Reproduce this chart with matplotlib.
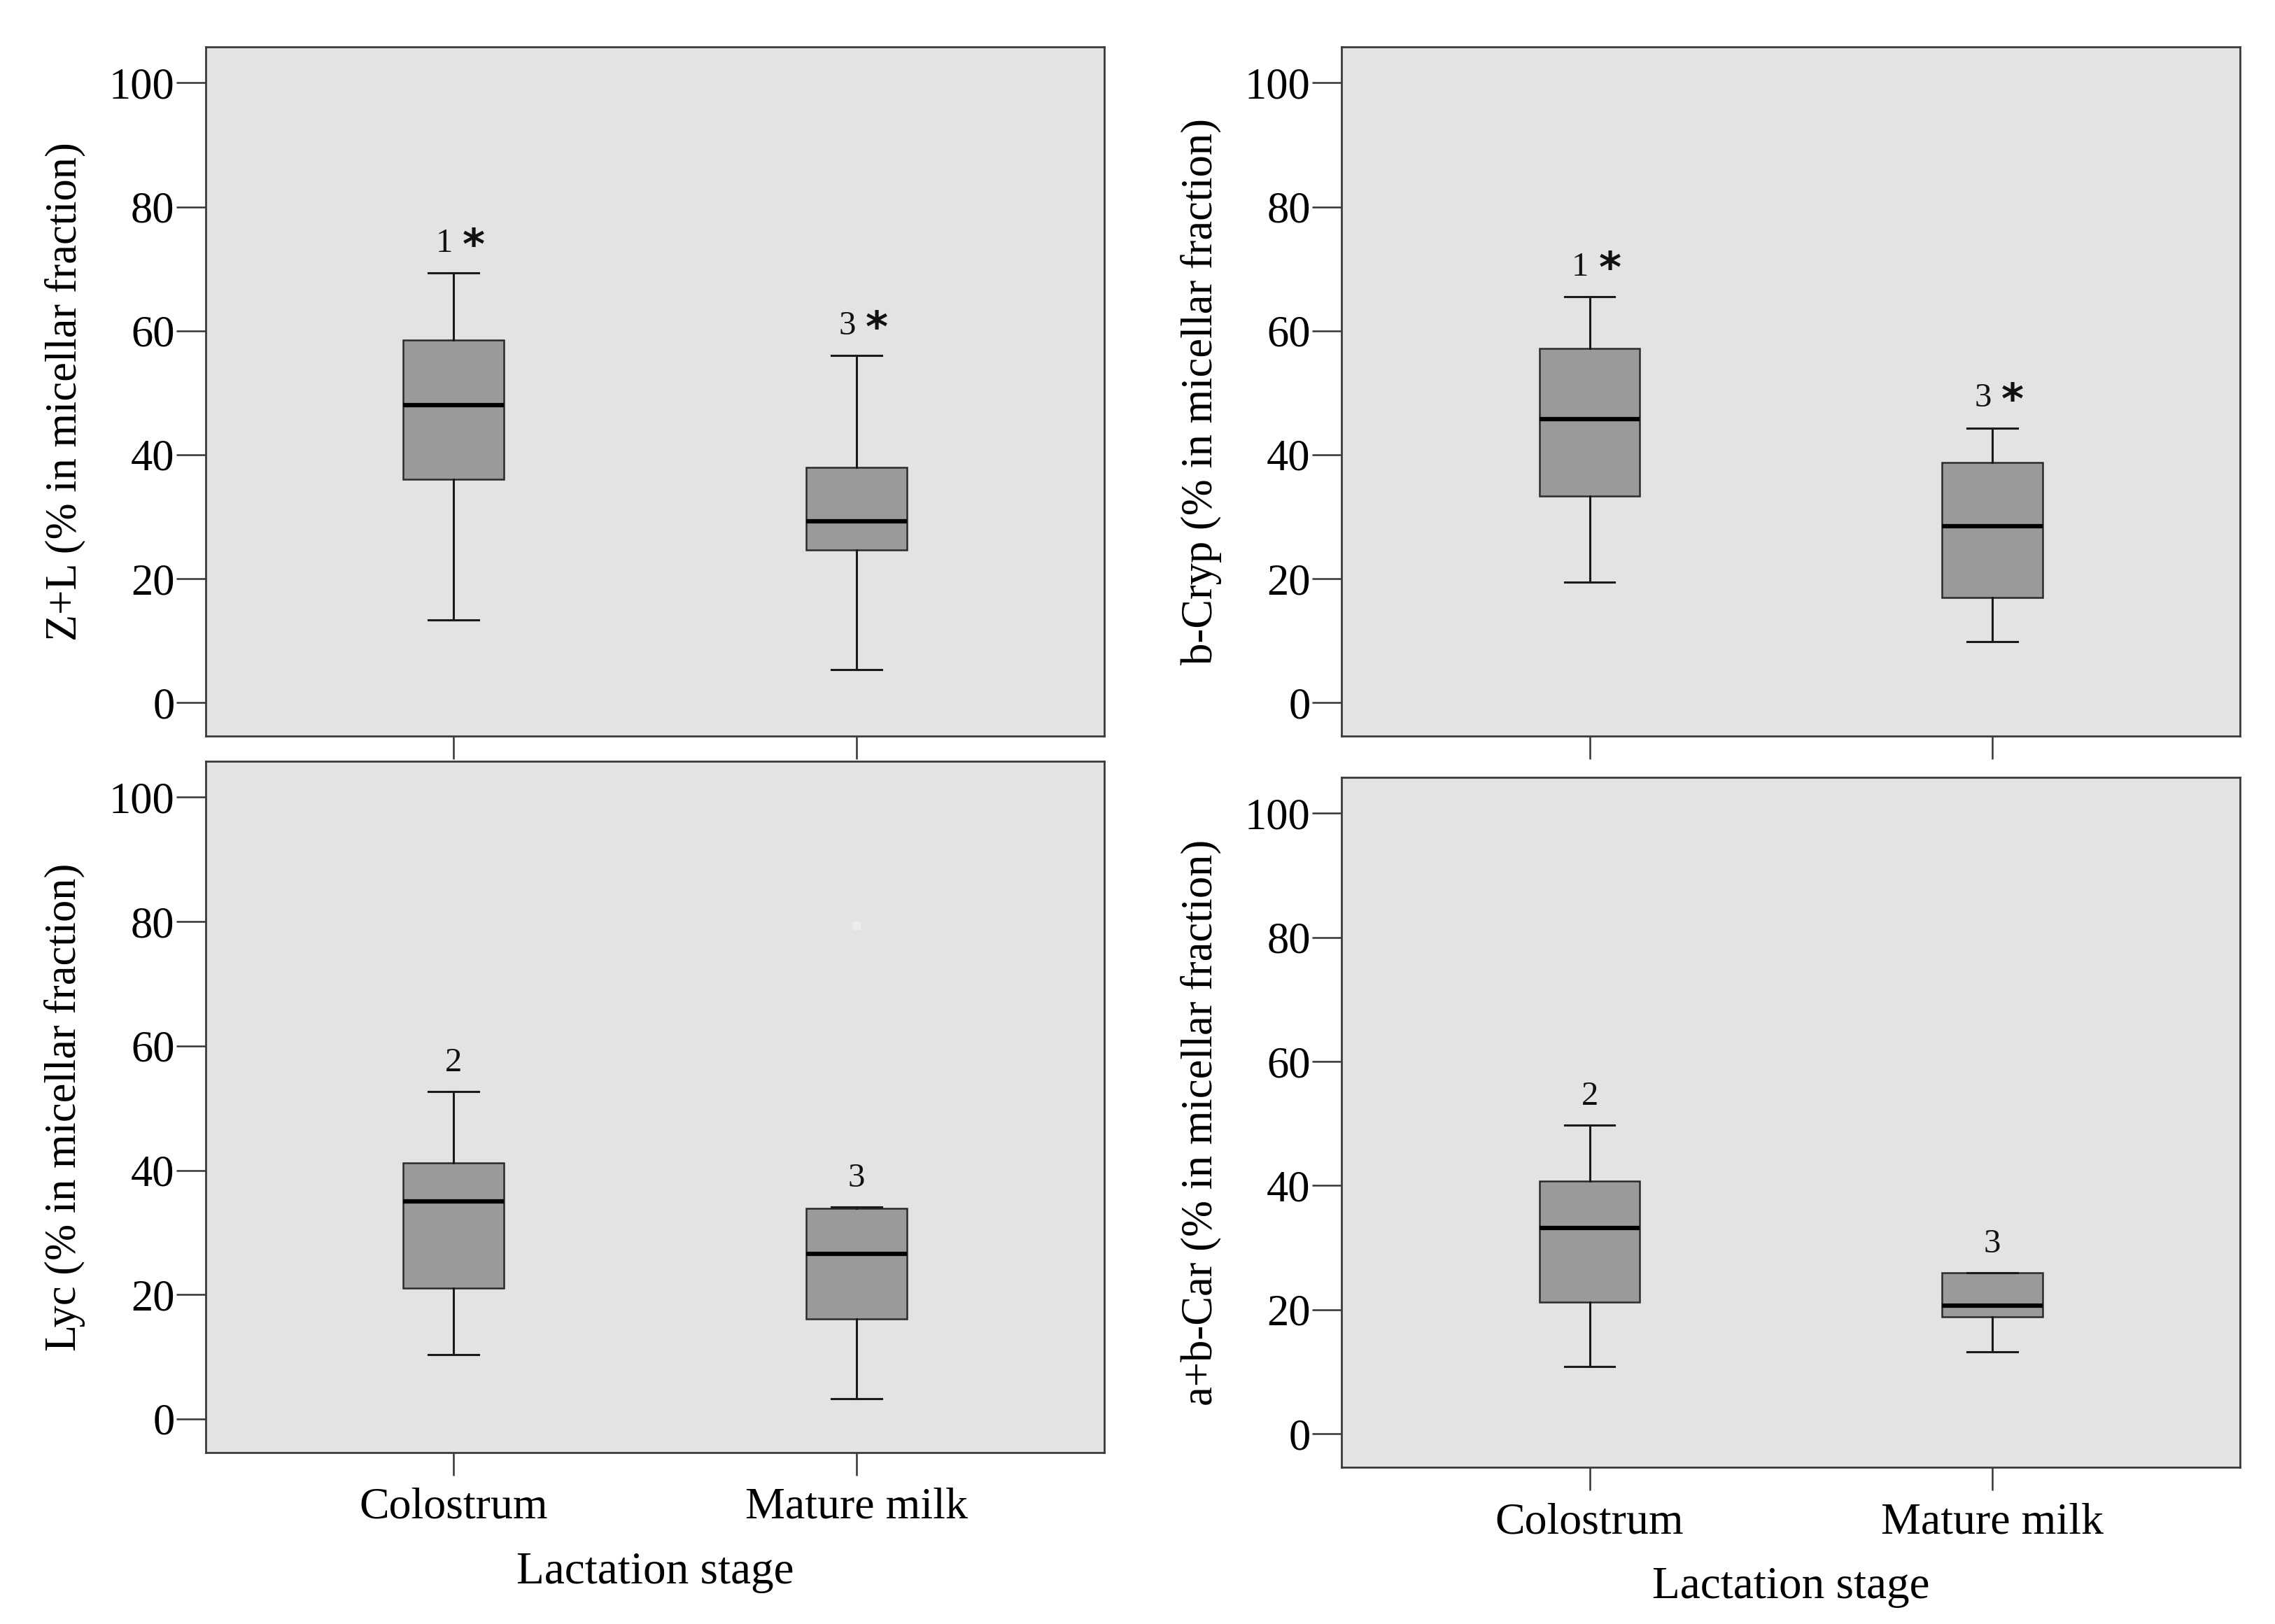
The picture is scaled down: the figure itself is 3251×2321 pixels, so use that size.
import numpy as np
import matplotlib
matplotlib.use("Agg")
import matplotlib.pyplot as plt

# categories
stages = ["Colostrum", "Mature milk"]
ylabels = ["Z+L (% in micellar fraction)", "b-Cryp (% in micellar fraction)",
           "Lyc (% in micellar fraction)", "a+b-Car (% in micellar fraction)"]

# box statistics per panel: [Colostrum, Mature milk]
zl_low = [13.3, 5.3]
zl_q1 = [36.0, 24.6]
zl_med = [48.0, 29.3]
zl_q3 = [58.5, 38.0]
zl_high = [69.3, 56.0]
zl_note = ["1", "3"]
zl_star = [True, True]

bc_low = [19.5, 9.8]
bc_q1 = [33.3, 17.0]
bc_med = [45.8, 28.5]
bc_q3 = [57.1, 38.8]
bc_high = [65.5, 44.3]
bc_note = ["1", "3"]
bc_star = [True, True]

ly_low = [10.3, 3.3]
ly_q1 = [21.0, 16.1]
ly_med = [35.0, 26.5]
ly_q3 = [41.2, 33.9]
ly_high = [52.7, 34.1]
ly_note = ["2", "3"]
ly_star = [False, False]
ly_faint = [None, 79.3]

ca_low = [10.8, 13.2]
ca_q1 = [21.2, 18.9]
ca_med = [33.2, 20.6]
ca_q3 = [40.7, 26.0]
ca_high = [49.8, 26.0]
ca_note = ["2", "3"]
ca_star = [False, False]

panels = [
    (zl_low, zl_q1, zl_med, zl_q3, zl_high, zl_note, zl_star),
    (bc_low, bc_q1, bc_med, bc_q3, bc_high, bc_note, bc_star),
    (ly_low, ly_q1, ly_med, ly_q3, ly_high, ly_note, ly_star),
    (ca_low, ca_q1, ca_med, ca_q3, ca_high, ca_note, ca_star),
]

plt.rcParams['font.family'] = ['Liberation Serif', 'DejaVu Serif']

fig = plt.figure(figsize=(32.51, 23.21), dpi=100)
rects = [
    [0.0904, 0.5467, 0.395, 0.4244],
    [0.5897, 0.5467, 0.395, 0.4244],
    [0.0904, 0.1056, 0.395, 0.4257],
    [0.5897, 0.0965, 0.395, 0.4248],
]

for k, (rect, p) in enumerate(zip(rects, panels)):
    low, q1, med, q3, high, note, star = p
    ax = fig.add_axes(rect)
    ax.set_facecolor("#e3e3e3")
    stats = []
    for i in range(2):
        stats.append(dict(whislo=low[i], q1=q1[i], med=med[i], q3=q3[i],
                          whishi=high[i], fliers=[]))
    ax.bxp(stats, positions=[1, 2], widths=0.25, capwidths=0.125,
           patch_artist=True, showfliers=False,
           boxprops=dict(facecolor="#9a9a9a", edgecolor="#2a2a2a", linewidth=1.8),
           medianprops=dict(color="black", linewidth=4.5),
           whiskerprops=dict(color="#1a1a1a", linewidth=2.2),
           capprops=dict(color="#1a1a1a", linewidth=2.2))
    for i in range(2):
        if star[i]:
            ax.text(1 + i - 0.023, high[i] + 4.8, note[i], ha="center", va="center",
                    fontsize=35, color="#111111")
            ax.text(1 + i + 0.05, high[i] + 4.2, "*", ha="center", va="center",
                    fontsize=44, fontweight="bold", color="#111111",
                    family="DejaVu Sans")
        else:
            ax.text(1 + i, high[i] + 4.6, note[i], ha="center", va="center",
                    fontsize=35, color="#111111")
    if k == 2:
        for i, v in enumerate(ly_faint):
            if v is not None:
                ax.plot([1 + i], [v], "s", ms=9, color="#ececec", mec="none")
    ax.set_xlim(0.384, 2.616)
    ax.set_ylim(-5.4, 105.8)
    ax.set_yticks([0, 20, 40, 60, 80, 100])
    ax.set_xticks([1, 2])
    ax.tick_params(axis="y", length=30, width=1.8, color="#333333",
                   labelsize=45, pad=2)
    ax.tick_params(axis="x", length=24, width=1.8, color="#333333",
                   labelsize=46, pad=12)
    for s in ax.spines.values():
        s.set_color("#3a3a3a")
        s.set_linewidth(2.0)
    ax.set_ylabel(ylabels[k], fontsize=45, labelpad=24)
    if k >= 2:
        ax.set_xticklabels(stages)
        ax.set_xlabel("Lactation stage", fontsize=47, labelpad=24)
    else:
        ax.set_xticklabels([])

fig.savefig("out.png", dpi=100, facecolor="white")
